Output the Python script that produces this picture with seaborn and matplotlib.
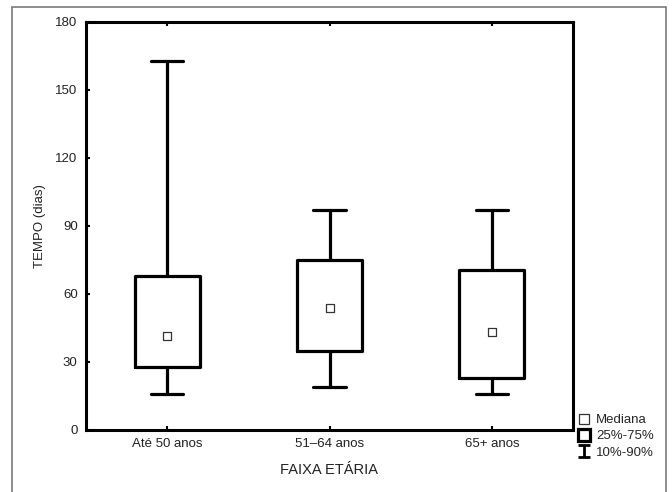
import matplotlib
matplotlib.use("Agg")
import matplotlib.pyplot as plt
from matplotlib.lines import Line2D
from matplotlib.path import Path
from matplotlib.patches import Rectangle
import seaborn as sns
import pandas as pd

categories = ["Até 50 anos", "51–64 anos", "65+ anos"]
p10 = [16, 19, 16]
q25 = [28, 35, 23]
median = [41.5, 53.7, 43.4]
q75 = [68, 75, 70.6]
p90 = [163, 97, 97]
yticks = [0, 30, 60, 90, 120, 150, 180]

sns.set_theme(style="white")
plt.rcParams["font.family"] = ["Liberation Sans", "DejaVu Sans"]

fig = plt.figure(figsize=(6.72, 4.92), dpi=100)
ax = fig.add_axes([86/672, 62/492, (573-86)/672, (430-22)/492])

stats = []
for i, c in enumerate(categories):
    stats.append(dict(label=c, med=median[i], q1=q25[i], q3=q75[i],
                      whislo=p10[i], whishi=p90[i], fliers=[]))
lw = 2.3
ax.bxp(stats, positions=range(len(categories)), widths=0.4, capwidths=0.2,
       showfliers=False,
       boxprops=dict(color="black", linewidth=lw),
       whiskerprops=dict(color="black", linewidth=lw),
       capprops=dict(color="black", linewidth=lw),
       medianprops=dict(linewidth=0))

df = pd.DataFrame({"pos": range(len(categories)), "median": median})
sns.scatterplot(data=df, x="pos", y="median", marker="s", s=40,
                facecolor="white", edgecolor="#333333", linewidth=0.9,
                ax=ax, zorder=5, legend=False)

ax.set_xlim(-0.5, 2.5)
ax.set_ylim(0, 180)
ax.set_yticks(yticks)
ax.set_yticklabels([str(t) for t in yticks], fontsize=9.5, color="#222222")
ax.set_xticks(range(len(categories)))
ax.set_xticklabels(categories, fontsize=9.5, color="#222222")
ax.tick_params(axis="both", direction="in", length=3, width=1.5, color="black",
               top=True, bottom=True, left=True, right=False, pad=6)
ax.set_xlabel("FAIXA ETÁRIA", fontsize=10.5, color="#222222", labelpad=9)
ax.set_ylabel("TEMPO (dias)", fontsize=9.5, color="#222222", labelpad=7)
for s in ax.spines.values():
    s.set_visible(True)
    s.set_color("black")
    s.set_linewidth(2.2)

# legend handles
ibeam = Path([(-1, 1), (1, 1), (0, 1), (0, -1), (-1, -1), (1, -1)],
             [Path.MOVETO, Path.LINETO, Path.MOVETO, Path.LINETO, Path.MOVETO, Path.LINETO])
handles = [
    Line2D([], [], ls="none", marker="s", ms=6.5, mfc="white", mec="#333333", mew=0.9),
    Line2D([], [], ls="none", marker="s", ms=8, mfc="white", mec="black", mew=2.3),
    Line2D([], [], ls="none", marker=ibeam, ms=8.5, mec="black", mew=2.0),
]
fig.legend(handles, ["Mediana", "25%-75%", "10%-90%"], loc="upper left",
           bbox_to_anchor=(579/672, 1 - 414/492), frameon=False, fontsize=9.5,
           handlelength=0.8, handletextpad=0.5, labelspacing=0.3,
           borderaxespad=0, borderpad=0)

# figure frame
fig.patches.append(Rectangle((12/672, -0.05), (666-12)/672, 1.05 - 7/492,
                             transform=fig.transFigure, fill=False,
                             edgecolor="#7a7a7a", linewidth=1.2, clip_on=False))

fig.savefig("out.png", dpi=100)
